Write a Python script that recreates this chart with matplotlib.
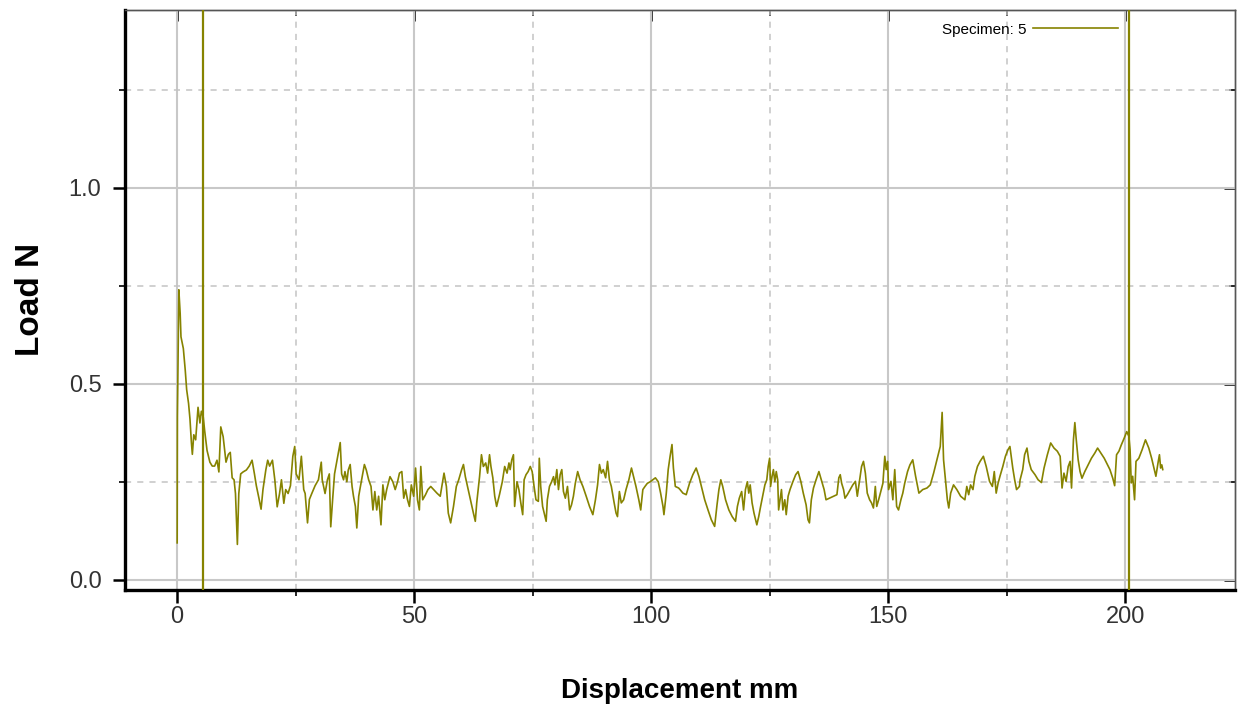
import matplotlib
matplotlib.use("Agg")
import matplotlib.pyplot as plt
from matplotlib.ticker import MultipleLocator, NullFormatter

plt.rcParams['font.family'] = ['Liberation Sans', 'DejaVu Sans']

# Load trace, split in chunks along the displacement axis
# (displacement mm, load N)
load_0_34 = [
    (0.0, 0.094), (0.05, 0.416), (0.35, 0.74), (0.63, 0.68), (0.8, 0.62), (1.3, 0.59),
    (1.7, 0.535), (2.0, 0.485), (2.4, 0.45), (2.7, 0.41), (3.0, 0.35), (3.2, 0.32),
    (3.5, 0.37), (3.9, 0.357), (4.4, 0.44), (4.8, 0.40), (5.1, 0.43), (5.5, 0.415),
    (5.8, 0.38), (6.3, 0.33), (6.9, 0.30), (7.4, 0.29), (7.9, 0.29), (8.4, 0.305),
    (8.8, 0.275), (9.2, 0.39), (9.7, 0.365), (10.3, 0.30), (10.8, 0.32), (11.2, 0.325),
    (11.6, 0.26), (12.0, 0.255), (12.3, 0.22), (12.7, 0.09), (13.0, 0.22), (13.4, 0.27),
    (13.9, 0.275), (14.6, 0.28), (15.2, 0.29), (15.8, 0.305), (16.3, 0.27), (16.7, 0.24),
    (17.3, 0.205), (17.7, 0.18), (18.1, 0.23), (18.7, 0.28), (19.1, 0.305), (19.5, 0.29),
    (20.1, 0.305), (20.6, 0.255), (21.1, 0.186), (21.6, 0.22), (22.0, 0.255), (22.5, 0.195),
    (22.9, 0.23), (23.4, 0.22), (23.9, 0.24), (24.4, 0.315), (24.8, 0.34), (25.1, 0.27),
    (25.7, 0.255), (26.2, 0.315), (26.7, 0.23), (27.0, 0.22), (27.5, 0.145), (27.9, 0.205),
    (28.4, 0.22), (29.1, 0.24), (29.8, 0.255), (30.4, 0.30), (30.6, 0.255), (31.2, 0.22),
    (31.7, 0.255), (32.1, 0.27), (32.4, 0.135), (32.8, 0.205), (33.2, 0.27),
]
load_34_70 = [
    (34.4, 0.35), (34.7, 0.27), (35.1, 0.255), (35.4, 0.276), (35.8, 0.25), (36.1, 0.28),
    (36.5, 0.294), (36.9, 0.238), (37.2, 0.213), (37.6, 0.187), (37.9, 0.132), (38.3, 0.213),
    (38.6, 0.234), (39.0, 0.26), (39.5, 0.294), (39.9, 0.28), (40.4, 0.255), (40.9, 0.238),
    (41.3, 0.178), (41.7, 0.225), (42.1, 0.178), (42.5, 0.213), (43.0, 0.14), (43.4, 0.242),
    (43.8, 0.204), (44.2, 0.23), (44.9, 0.263), (45.5, 0.25), (46.0, 0.23), (46.5, 0.25),
    (46.9, 0.272), (47.4, 0.276), (47.8, 0.208), (48.2, 0.23), (48.6, 0.204), (49.0, 0.187),
    (49.4, 0.242), (49.9, 0.213), (50.3, 0.285), (50.7, 0.204), (51.1, 0.178), (51.4, 0.289),
    (51.8, 0.204), (52.4, 0.217), (52.9, 0.23), (53.5, 0.238), (54.1, 0.23), (54.8, 0.221),
    (55.5, 0.213), (55.9, 0.242), (56.3, 0.272), (56.8, 0.238), (57.2, 0.17), (57.7, 0.145),
    (58.3, 0.187), (58.9, 0.238), (59.4, 0.255), (60.0, 0.28), (60.4, 0.294), (60.8, 0.263),
    (61.4, 0.23), (62.0, 0.196), (62.5, 0.17), (62.9, 0.149), (63.2, 0.196), (63.8, 0.263),
    (64.2, 0.319), (64.6, 0.289), (65.1, 0.298), (65.5, 0.272), (65.9, 0.319), (66.2, 0.289),
    (66.6, 0.26), (67.0, 0.213), (67.4, 0.187), (68.0, 0.217), (68.6, 0.25), (69.1, 0.289),
    (69.6, 0.272), (70.0, 0.298),
]
load_70_106 = [
    (70.25, 0.281), (70.6, 0.306), (70.95, 0.319), (71.2, 0.187), (71.7, 0.25), (72.1, 0.23),
    (72.5, 0.196), (72.9, 0.166), (73.2, 0.255), (73.6, 0.268), (74.05, 0.276), (74.5, 0.289),
    (74.9, 0.276), (75.3, 0.238), (75.7, 0.204), (76.2, 0.2), (76.4, 0.31), (76.7, 0.238),
    (77.1, 0.187), (77.6, 0.161), (77.85, 0.149), (78.1, 0.204), (78.55, 0.238), (79.0, 0.25),
    (79.4, 0.263), (79.7, 0.242), (80.1, 0.281), (80.45, 0.23), (80.8, 0.268), (81.15, 0.281),
    (81.5, 0.225), (81.9, 0.208), (82.35, 0.238), (82.8, 0.178), (83.2, 0.191), (83.6, 0.213),
    (84.0, 0.246), (84.5, 0.276), (85.0, 0.255), (85.6, 0.238), (86.3, 0.213), (87.0, 0.187),
    (87.7, 0.166), (88.25, 0.204), (88.7, 0.242), (89.1, 0.294), (89.5, 0.272), (89.9, 0.281),
    (90.4, 0.26), (90.8, 0.302), (91.2, 0.255), (91.6, 0.238), (92.2, 0.196), (92.6, 0.17),
    (92.9, 0.161), (93.3, 0.225), (93.7, 0.196), (94.2, 0.204), (94.7, 0.23), (95.3, 0.255),
    (95.85, 0.285), (96.3, 0.263), (96.8, 0.238), (97.4, 0.204), (97.8, 0.178), (98.25, 0.23),
    (98.7, 0.238), (99.2, 0.246), (99.8, 0.25), (100.35, 0.255), (100.9, 0.26), (101.5, 0.25),
    (102.0, 0.221), (102.5, 0.187), (102.7, 0.166), (103.2, 0.221), (103.6, 0.281), (104.0, 0.315),
    (104.4, 0.345), (104.7, 0.285), (105.1, 0.238), (105.8, 0.234),
]
load_106_142 = [
    (106.1, 0.23), (106.7, 0.221), (107.4, 0.217), (108.1, 0.246), (108.8, 0.268), (109.5, 0.285),
    (110.1, 0.263), (110.6, 0.238), (111.3, 0.204), (112.0, 0.178), (112.7, 0.153), (113.4, 0.136),
    (113.9, 0.191), (114.3, 0.23), (114.7, 0.255), (115.1, 0.238), (115.7, 0.204), (116.4, 0.178),
    (117.1, 0.161), (117.8, 0.149), (118.2, 0.187), (118.6, 0.208), (119.1, 0.225), (119.5, 0.178),
    (119.9, 0.23), (120.3, 0.25), (120.6, 0.221), (120.9, 0.242), (121.3, 0.196), (121.7, 0.17),
    (122.3, 0.14), (122.7, 0.161), (123.1, 0.187), (123.6, 0.217), (124.0, 0.242), (124.4, 0.255),
    (124.7, 0.289), (125.0, 0.31), (125.2, 0.238), (125.5, 0.263), (125.8, 0.281), (126.1, 0.25),
    (126.4, 0.276), (126.7, 0.255), (126.9, 0.178), (127.2, 0.204), (127.5, 0.23), (127.8, 0.178),
    (128.2, 0.204), (128.5, 0.166), (128.9, 0.213), (129.3, 0.23), (129.9, 0.25), (130.5, 0.268),
    (131.0, 0.276), (131.6, 0.25), (132.1, 0.221), (132.7, 0.191), (133.1, 0.153), (133.4, 0.145),
    (133.8, 0.204), (134.25, 0.234), (134.8, 0.255), (135.4, 0.276), (135.9, 0.255), (136.5, 0.23),
    (136.9, 0.204), (137.6, 0.208), (138.5, 0.213), (139.2, 0.217), (139.6, 0.26), (139.9, 0.268),
    (140.2, 0.246), (140.6, 0.23), (140.9, 0.208), (141.4, 0.217),
]
load_142_178 = [
    (142.0, 0.23), (142.55, 0.242), (143.1, 0.251), (143.5, 0.213), (144.0, 0.255), (144.4, 0.289),
    (144.8, 0.302), (145.2, 0.272), (145.6, 0.221), (146.1, 0.204), (146.5, 0.196), (146.9, 0.183),
    (147.3, 0.238), (147.6, 0.187), (148.0, 0.204), (148.45, 0.225), (148.9, 0.246), (149.3, 0.315),
    (149.6, 0.281), (149.9, 0.302), (150.1, 0.23), (150.6, 0.251), (151.0, 0.204), (151.4, 0.281),
    (151.8, 0.187), (152.2, 0.178), (152.7, 0.204), (153.1, 0.221), (153.5, 0.246), (154.1, 0.276),
    (154.6, 0.293), (155.2, 0.306), (155.8, 0.264), (156.5, 0.221), (157.3, 0.23), (158.2, 0.234),
    (158.9, 0.242), (159.6, 0.272), (160.3, 0.306), (161.0, 0.34), (161.4, 0.427), (161.7, 0.306),
    (162.1, 0.255), (162.5, 0.204), (162.8, 0.183), (163.2, 0.221), (163.8, 0.242), (164.5, 0.23),
    (165.3, 0.213), (166.2, 0.204), (166.6, 0.238), (167.0, 0.217), (167.4, 0.242), (167.9, 0.23),
    (168.3, 0.264), (168.85, 0.289), (169.4, 0.302), (170.1, 0.315), (170.7, 0.289), (171.4, 0.251),
    (172.0, 0.238), (172.4, 0.276), (172.8, 0.221), (173.2, 0.246), (173.6, 0.264), (174.2, 0.289),
    (174.75, 0.315), (175.3, 0.332), (175.7, 0.34), (176.3, 0.285), (176.7, 0.255), (177.1, 0.23),
    (177.7, 0.238),
]
load_178_208 = [
    (177.85, 0.255), (178.4, 0.281), (178.8, 0.319), (179.3, 0.336), (179.7, 0.302), (180.2, 0.281),
    (181.0, 0.268), (181.65, 0.255), (182.35, 0.248), (182.9, 0.285), (183.6, 0.319), (184.3, 0.349),
    (185.0, 0.336), (185.7, 0.328), (186.3, 0.315), (186.7, 0.234), (187.1, 0.272), (187.55, 0.251),
    (188.0, 0.289), (188.4, 0.302), (188.7, 0.234), (189.1, 0.357), (189.4, 0.401), (189.7, 0.357),
    (190.1, 0.306), (190.5, 0.276), (190.9, 0.259), (191.5, 0.276), (192.2, 0.293), (192.9, 0.31),
    (193.6, 0.323), (194.2, 0.336), (194.9, 0.323), (195.6, 0.31), (196.3, 0.293), (196.8, 0.281),
    (197.4, 0.259), (197.8, 0.24), (198.2, 0.319), (198.7, 0.328), (199.2, 0.344), (199.8, 0.361),
    (200.35, 0.378), (200.8, 0.366), (201.05, 0.332), (201.3, 0.247), (201.6, 0.264), (202.0, 0.204),
    (202.3, 0.302), (202.9, 0.31), (203.6, 0.332), (204.3, 0.357), (205.0, 0.336), (205.6, 0.31),
    (206.1, 0.285), (206.5, 0.264), (207.0, 0.302), (207.25, 0.319), (207.5, 0.285), (207.75, 0.293),
    (207.95, 0.281),
]

# cursor lines (displacement mm)
markers_mm = [5.5, 200.8]
series_label = "Specimen: 5"

trace = load_0_34 + load_34_70 + load_70_106 + load_106_142 + load_142_178 + load_178_208
disp = [p[0] for p in trace]
load = [p[1] for p in trace]

olive = '#868300'

fig = plt.figure(figsize=(12.43, 7.2), dpi=100)
ax = fig.add_axes([0.1006, 0.181, 0.8930, 0.805])

ax.plot(disp, load, color=olive, lw=1.2, label=series_label, zorder=3)
for m in markers_mm:
    ax.axvline(m, color=olive, lw=1.6, zorder=3)

ax.set_xlim(-11, 223.2)
ax.set_ylim(-0.0255, 1.454)

ax.xaxis.set_major_locator(MultipleLocator(50))
ax.xaxis.set_minor_locator(MultipleLocator(25))
ax.yaxis.set_major_locator(MultipleLocator(0.5))
ax.yaxis.set_minor_locator(MultipleLocator(0.25))
ax.yaxis.set_major_formatter(plt.FormatStrFormatter('%.1f'))

ax.grid(which='major', color='#c8c8c8', lw=1.5, ls='-', zorder=0)
ax.grid(which='minor', color='#c4c4c4', lw=1.1, ls=(0, (4, 4)), zorder=0)
ax.set_axisbelow(True)

ax.tick_params(axis='both', which='major', direction='out', length=9, width=1.8,
               labelsize=17, labelcolor='#333333', color='black')
ax.tick_params(axis='y', which='major', pad=8)
ax.tick_params(axis='x', which='major', pad=3)
ax.tick_params(axis='both', which='minor', direction='out', length=4, width=1.2, color='black')

# inward ticks on the top and right frame
for sec in (ax.secondary_xaxis('top'), ax.secondary_yaxis('right')):
    axis = sec.xaxis if hasattr(sec, 'xaxis') and sec._orientation == 'x' else sec.yaxis
    step = (50, 25) if sec._orientation == 'x' else (0.5, 0.25)
    axis.set_major_locator(MultipleLocator(step[0]))
    axis.set_minor_locator(MultipleLocator(step[1]))
    axis.set_major_formatter(NullFormatter())
    sec.tick_params(which='major', direction='in', length=8, width=1.8, color='black')
    sec.tick_params(which='minor', direction='in', length=4, width=1.2, color='black')
    for sp in sec.spines.values():
        sp.set_linewidth(1.0)
        sp.set_color('#555555')

for side in ['left', 'bottom']:
    ax.spines[side].set_linewidth(2.4)
    ax.spines[side].set_color('black')
for side in ['top', 'right']:
    ax.spines[side].set_linewidth(1.0)
    ax.spines[side].set_color('#555555')

ax.set_xlabel("Displacement mm", fontsize=20, fontweight='bold', labelpad=36)
ax.set_ylabel("Load N", fontsize=24, fontweight='bold', labelpad=16)

ax.legend(loc='center right', bbox_to_anchor=(0.895, 0.966), frameon=False,
          markerfirst=False, fontsize=11, handlelength=5.6, handletextpad=0.4,
          borderpad=0, borderaxespad=0)

fig.savefig("out.png", dpi=100)
